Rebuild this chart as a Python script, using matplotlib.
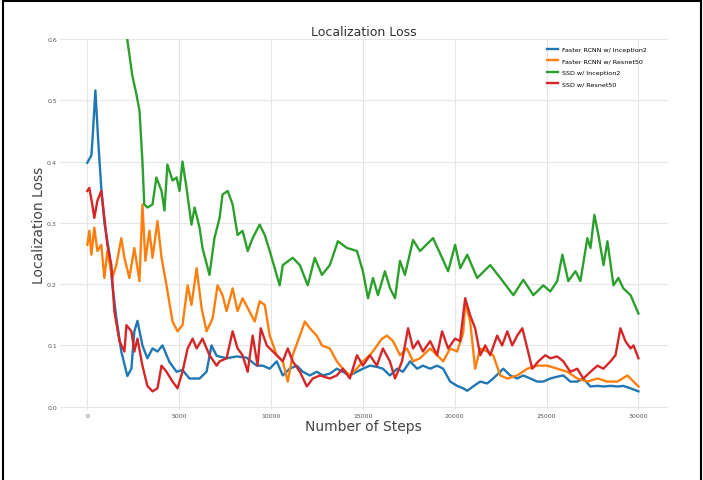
import matplotlib
matplotlib.use("Agg")
import matplotlib.pyplot as plt
from matplotlib.lines import Line2D

# Faster RCNN w/ Inception2
frcnn_inc_steps = [0, 220, 270, 440, 600, 760, 930, 1200, 1360, 1580, 1850, 2180, 2400, 2560,
                   2730, 3000, 3270, 3550, 3820, 4090, 4470, 4860, 5180, 5560, 6110, 6490, 6760,
                   7040, 7580, 8130, 8670, 9220, 9550, 9930, 10310, 10640, 11020, 11400, 11730,
                   12110, 12490, 12820, 13200, 13580, 13910, 14290, 14670, 15000, 15380, 15760,
                   16090, 16470, 16860, 17180, 17570, 17950, 18270, 18660, 19040, 19370, 19750,
                   20130, 20460, 20680, 21000, 21380, 21770, 22090, 22480, 22640, 23020, 23400,
                   23730, 24110, 24490, 24820, 25200, 25580, 25910, 26290, 26670, 27000, 27380,
                   27770, 28090, 28480, 28860, 29180, 29570, 30000]
frcnn_inc_loss = [0.398, 0.41, 0.43, 0.516, 0.43, 0.357, 0.30, 0.25, 0.20, 0.145, 0.09, 0.05, 0.062,
                  0.123, 0.14, 0.10, 0.079, 0.095, 0.09, 0.10, 0.073, 0.057, 0.06, 0.046, 0.046,
                  0.057, 0.10, 0.083, 0.079, 0.082, 0.08, 0.067, 0.067, 0.062, 0.074, 0.051, 0.062,
                  0.067, 0.057, 0.051, 0.057, 0.051, 0.054, 0.062, 0.057, 0.051, 0.057, 0.062,
                  0.067, 0.065, 0.062, 0.051, 0.062, 0.057, 0.074, 0.062, 0.067, 0.062, 0.067,
                  0.062, 0.041, 0.034, 0.03, 0.026, 0.033, 0.041, 0.038, 0.046, 0.057, 0.062,
                  0.051, 0.046, 0.051, 0.046, 0.041, 0.041, 0.046, 0.049, 0.051, 0.041, 0.041,
                  0.046, 0.033, 0.034, 0.033, 0.034, 0.033, 0.034, 0.03, 0.025]

# Faster RCNN w/ Resnet50
frcnn_res_steps = [0, 110, 220, 380, 550, 760, 930, 1090, 1360, 1580, 1850, 2020, 2290, 2560,
                   2840, 3000, 3160, 3380, 3550, 3820, 4040, 4310, 4640, 4910, 5180, 5460, 5670,
                   5950, 6220, 6490, 6820, 7090, 7360, 7580, 7910, 8180, 8450, 8730, 9110, 9380,
                   9660, 9930, 10310, 10640, 10910, 11180, 11570, 11840, 12110, 12490, 12770,
                   13200, 13580, 13910, 14290, 14670, 15000, 15380, 15660, 16040, 16310, 16640,
                   17020, 17400, 17730, 18110, 18660, 19040, 19370, 19750, 20130, 20460, 20570,
                   20840, 21110, 21380, 21770, 22090, 22480, 22860, 23400, 23950, 24490, 25040,
                   25580, 26130, 26670, 27220, 27770, 28310, 28860, 29400, 29730, 30000]
frcnn_res_loss = [0.264, 0.287, 0.248, 0.292, 0.254, 0.264, 0.21, 0.254, 0.21, 0.231, 0.275, 0.243,
                  0.21, 0.259, 0.205, 0.33, 0.238, 0.287, 0.243, 0.303, 0.243, 0.198, 0.139,
                  0.123, 0.133, 0.198, 0.166, 0.226, 0.161, 0.123, 0.144, 0.198, 0.182, 0.156,
                  0.193, 0.156, 0.177, 0.161, 0.139, 0.172, 0.166, 0.116, 0.084, 0.074, 0.041,
                  0.084, 0.116, 0.139, 0.128, 0.116, 0.10, 0.095, 0.074, 0.062, 0.051, 0.062,
                  0.074, 0.084, 0.095, 0.111, 0.116, 0.107, 0.084, 0.095, 0.074, 0.079, 0.095,
                  0.084, 0.074, 0.095, 0.09, 0.12, 0.17, 0.139, 0.062, 0.095, 0.09, 0.084, 0.051,
                  0.046, 0.051, 0.062, 0.067, 0.067, 0.062, 0.057, 0.046, 0.041, 0.046, 0.041,
                  0.041, 0.051, 0.041, 0.033]

# SSD w/ Inception2
ssd_inc_steps = [1500, 2180, 2450, 2670, 2840, 3000, 3100, 3270, 3550, 3760, 4040, 4200, 4360,
                 4640, 4860, 5020, 5180, 5400, 5670, 5840, 6110, 6270, 6650, 6920, 7200, 7360,
                 7640, 7910, 8180, 8450, 8730, 9000, 9380, 9660, 9930, 10470, 10640, 11180,
                 11570, 12000, 12380, 12770, 13200, 13640, 14130, 14680, 15000, 15280, 15550,
                 15820, 16200, 16480, 16750, 17020, 17290, 17730, 18110, 18820, 19310, 19640,
                 20020, 20300, 20680, 21220, 21930, 22480, 23190, 23730, 24280, 24820, 25200,
                 25580, 25860, 26180, 26570, 26840, 27220, 27390, 27600, 27820, 28100, 28310,
                 28640, 28910, 29180, 29570, 30000]
ssd_inc_loss = [0.72, 0.598, 0.54, 0.51, 0.483, 0.40, 0.33, 0.325, 0.33, 0.374, 0.352, 0.32, 0.395,
                0.369, 0.374, 0.352, 0.40, 0.357, 0.297, 0.325, 0.292, 0.259, 0.215, 0.275, 0.308,
                0.346, 0.352, 0.33, 0.28, 0.287, 0.254, 0.275, 0.297, 0.28, 0.254, 0.198, 0.231,
                0.243, 0.231, 0.198, 0.243, 0.215, 0.231, 0.27, 0.259, 0.254, 0.221, 0.177, 0.21,
                0.182, 0.221, 0.193, 0.177, 0.238, 0.215, 0.272, 0.254, 0.275, 0.243, 0.221,
                0.264, 0.226, 0.248, 0.21, 0.231, 0.21, 0.182, 0.207, 0.182, 0.198, 0.188, 0.205,
                0.248, 0.205, 0.221, 0.205, 0.275, 0.259, 0.313, 0.28, 0.231, 0.27, 0.198, 0.21,
                0.193, 0.182, 0.152]

# SSD w/ Resnet50
ssd_res_steps = [0, 110, 270, 380, 550, 760, 930, 1090, 1310, 1470, 1750, 2020, 2130, 2400, 2560,
                 2730, 3000, 3270, 3550, 3820, 4040, 4310, 4640, 4910, 5180, 5460, 5730, 5950,
                 6270, 6650, 7040, 7200, 7580, 7910, 8180, 8450, 8730, 9000, 9270, 9440, 9770,
                 9930, 10310, 10640, 10910, 11180, 11570, 11950, 12270, 12660, 13200, 13580,
                 13910, 14290, 14680, 15000, 15380, 15760, 16090, 16470, 16750, 17130, 17460,
                 17730, 18000, 18270, 18660, 19040, 19310, 19640, 20020, 20290, 20570, 20840,
                 21110, 21390, 21660, 21930, 22310, 22580, 22860, 23130, 23400, 23680, 23950,
                 24220, 24550, 24930, 25200, 25580, 25910, 26290, 26670, 27000, 27390, 27770,
                 28090, 28480, 28750, 29020, 29290, 29570, 29730, 30000]
ssd_res_loss = [0.352, 0.357, 0.33, 0.308, 0.336, 0.352, 0.308, 0.264, 0.231, 0.156, 0.107, 0.09,
                0.133, 0.123, 0.09, 0.111, 0.067, 0.034, 0.025, 0.03, 0.067, 0.057, 0.041, 0.03,
                0.057, 0.095, 0.111, 0.095, 0.111, 0.084, 0.067, 0.074, 0.079, 0.123, 0.095,
                0.084, 0.057, 0.116, 0.067, 0.128, 0.10, 0.095, 0.084, 0.074, 0.095, 0.074, 0.057,
                0.033, 0.046, 0.051, 0.046, 0.051, 0.062, 0.046, 0.084, 0.067, 0.084, 0.067,
                0.095, 0.074, 0.046, 0.074, 0.128, 0.095, 0.107, 0.09, 0.107, 0.084, 0.123, 0.095,
                0.111, 0.107, 0.177, 0.149, 0.128, 0.084, 0.10, 0.084, 0.116, 0.10, 0.123, 0.10,
                0.116, 0.128, 0.095, 0.062, 0.074, 0.084, 0.079, 0.082, 0.074, 0.057, 0.062,
                0.046, 0.057, 0.067, 0.062, 0.074, 0.084, 0.128, 0.107, 0.095, 0.10, 0.079]

labels = ["Faster RCNN w/ Inception2", "Faster RCNN w/ Resnet50",
          "SSD w/ Inception2", "SSD w/ Resnet50"]
colors = ["#1f77b4", "#ff7f0e", "#2ca02c", "#d62728"]

fig = plt.figure(figsize=(7.03, 4.81), dpi=100)
ax = fig.add_axes([0.085, 0.146, 0.865, 0.771])

series = [(frcnn_inc_steps, frcnn_inc_loss), (frcnn_res_steps, frcnn_res_loss),
          (ssd_inc_steps, ssd_inc_loss), (ssd_res_steps, ssd_res_loss)]
for (x, y), lab, c in zip(series, labels, colors):
    ax.plot(x, y, color=c, lw=1.7, label=lab)

ax.set_xlim(-1500, 31600)
ax.set_ylim(-0.005, 0.6)
ax.set_xticks(range(0, 30001, 5000))
ax.set_yticks([0.0, 0.1, 0.2, 0.3, 0.4, 0.5, 0.6])
ax.tick_params(labelsize=4.5, colors="#555555", length=0, pad=2)
ax.grid(True, color="#e6e6e6", lw=0.8)
for s in ax.spines.values():
    s.set_visible(False)

ax.set_title("Localization Loss", fontsize=9, color="#333333", pad=3)
ax.set_xlabel("Number of Steps", fontsize=10, color="#444444", labelpad=1)
ax.set_ylabel("Localization Loss", fontsize=10, color="#444444", labelpad=1)

ax.legend(loc="upper right", frameon=False, fontsize=4.6, handlelength=1.7,
          handletextpad=0.6, labelspacing=0.95, bbox_to_anchor=(0.975, 0.995))

# black frame on left, top and right edges
for xs, ys in [([0.004, 0.004], [0, 0.996]), ([0.004, 0.997], [0.996, 0.996]),
               ([0.997, 0.997], [0, 0.996])]:
    fig.add_artist(Line2D(xs, ys, color="black", lw=1.5, transform=fig.transFigure))

fig.savefig("out.png", dpi=100)
